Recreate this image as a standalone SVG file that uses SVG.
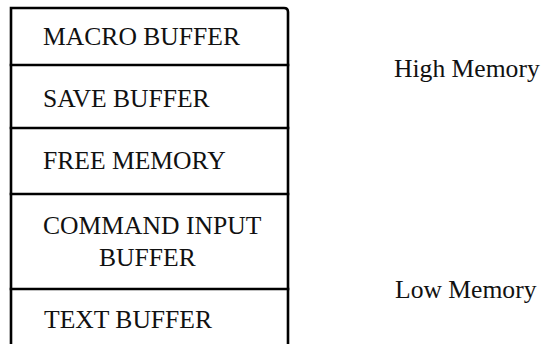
<svg xmlns="http://www.w3.org/2000/svg" width="541" height="344" viewBox="0 0 541 344">
<style>
.ln{stroke:#000;stroke-width:2.6;fill:none;stroke-linecap:square}
.t{font-family:"Liberation Serif","Times New Roman",serif;font-size:25.6px;fill:#111}
</style>
<rect width="541" height="344" fill="#fff"/>
<g id="frame">
<path class="ln" d="M11,346 V8 H284 Q288,8 288,12 V346"/>
</g>
<g id="macro-buffer">
<line class="ln" x1="11" y1="65" x2="288" y2="65"/>
<text class="t" x="43" y="45">MACRO BUFFER</text>
</g>
<g id="save-buffer">
<line class="ln" x1="11" y1="128" x2="288" y2="128"/>
<text class="t" x="43" y="107">SAVE BUFFER</text>
</g>
<g id="free-memory">
<line class="ln" x1="11" y1="194" x2="288" y2="194"/>
<text class="t" x="43" y="169">FREE MEMORY</text>
</g>
<g id="command-input-buffer">
<line class="ln" x1="11" y1="289" x2="288" y2="289"/>
<text class="t" x="43" y="234">COMMAND INPUT</text>
<text class="t" x="99" y="266">BUFFER</text>
</g>
<g id="text-buffer">
<text class="t" x="44" y="328">TEXT BUFFER</text>
</g>
<g id="high-memory">
<text class="t" x="394" y="77">High Memory</text>
</g>
<g id="low-memory">
<text class="t" x="395" y="298">Low Memory</text>
</g>
<g id="connectors"/>
</svg>
